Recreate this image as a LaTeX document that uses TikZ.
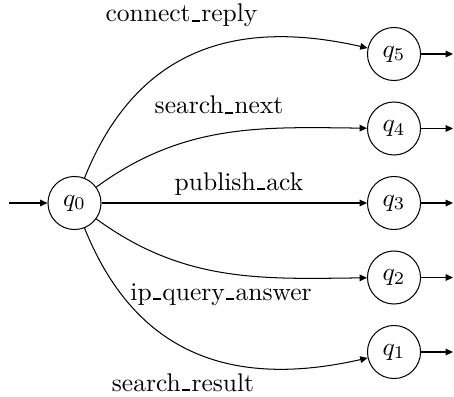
\documentclass[tikz,border=0pt]{standalone}
\usetikzlibrary{arrows.meta}
\newcommand{\usc}{\leavevmode\kern.06em\vbox{\hrule width .3em height .8pt}\kern.06em}

\begin{document}
\begin{tikzpicture}[
  x=0.392pt, y=-0.392pt,
  stnode/.style={draw, circle, minimum size=20.8pt, inner sep=0pt},
  trlabel/.style={anchor=base, inner sep=0pt},
  arrow/.style={-{Triangle[length=2.9pt,width=2.6pt]}}
]
\useasboundingbox (0,0) rectangle (454,396);
\node[stnode] (q0) at (74.5,203) {$q_0$};
\node[stnode] (q5) at (394,54) {$q_5$};
\node[stnode] (q4) at (394,128.5) {$q_4$};
\node[stnode] (q3) at (394,203) {$q_3$};
\node[stnode] (q2) at (394,277.5) {$q_2$};
\node[stnode] (q1) at (394,352) {$q_1$};
\coordinate (init) at (9,203);
\coordinate (out5) at (453,54);
\coordinate (out4) at (453,128.5);
\coordinate (out3) at (453,203);
\coordinate (out2) at (453,277.5);
\coordinate (out1) at (453,352);
\draw[arrow] (init) -- (q0);
\draw[arrow] (q0) .. controls (139,42) and (244,20) .. (q5);
\draw[arrow] (q0) .. controls (184,123) and (262,127) .. (q4);
\draw[arrow] (q0) -- (q3);
\draw[arrow] (q0) .. controls (184,283) and (262,279) .. (q2);
\draw[arrow] (q0) .. controls (139,364) and (244,386) .. (q1);
\draw[arrow] (q5) -- (out5);
\draw[arrow] (q4) -- (out4);
\draw[arrow] (q3) -- (out3);
\draw[arrow] (q2) -- (out2);
\draw[arrow] (q1) -- (out1);
% transition labels
\node[trlabel] (lconnect) at (181.5,22) {connect\usc reply};
\node[trlabel] (lnext) at (219,114) {search\usc next};
\node[trlabel] (lpublish) at (239,190) {publish\usc ack};
\node[trlabel] (lanswer) at (221,300) {ip\usc query\usc answer};
\node[trlabel] (lresult) at (183,391) {search\usc result};
\end{tikzpicture}
\end{document}
